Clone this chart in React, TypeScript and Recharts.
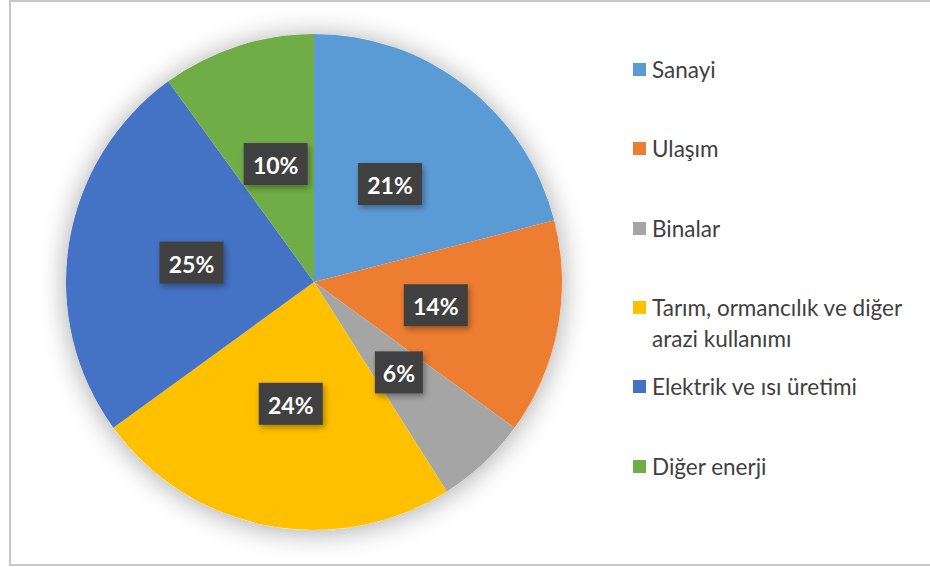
import React from 'react';
import { PieChart, Pie, Cell, Legend } from 'recharts';

const categories = [
    'Sanayi',
    'Ulaşım',
    'Binalar',
    'Tarım, ormancılık ve diğer arazi kullanımı',
    'Elektrik ve ısı üretimi',
    'Diğer enerji',
];
const shares = [21, 14, 6, 24, 25, 10];
const colors = ['#5B9BD5', '#ED7D31', '#A5A5A5', '#FFC000', '#4472C4', '#70AD47'];

// legend lines (the long one wraps in two)
const legendLines = [
    ['Sanayi'],
    ['Ulaşım'],
    ['Binalar'],
    ['Tarım, ormancılık ve diğer', 'arazi kullanımı'],
    ['Elektrik ve ısı üretimi'],
    ['Diğer enerji'],
];

const data = categories.map((name, i) => ({ name, value: shares[i] }));

const RAD = Math.PI / 180;

const renderLabel = (props: any) => {
    const { cx, cy, midAngle, outerRadius, value } = props;
    const r = outerRadius * 0.5;
    const x = cx + r * Math.cos(-midAngle * RAD);
    const y = cy + r * Math.sin(-midAngle * RAD);
    const w = value < 10 ? 48 : 64;
    const h = 42;
    return (
        <g>
            <rect x={x - w / 2} y={y - h / 2} width={w} height={h} fill="#404040" filter="url(#boxShadow)" />
            <text
                x={x}
                y={y + 1}
                fill="#ffffff"
                textAnchor="middle"
                dominantBaseline="central"
                fontFamily="Lato, 'Open Sans', sans-serif"
                fontWeight="bold"
                fontSize={23}
            >
                {value}%
            </text>
        </g>
    );
};

const LegendContent = () => (
    <div style={{ fontFamily: "Lato, 'Open Sans', sans-serif", fontSize: 22.5, color: '#404040' }}>
        {legendLines.map((lines, i) => (
            <div key={i} style={{ position: 'absolute', left: 0, top: i * 79.3, width: 297 }}>
                {lines.map((line, j) => (
                    <div key={j} style={{ display: 'flex', alignItems: 'center', height: 31, lineHeight: '31px', whiteSpace: 'nowrap' }}>
                        <span
                            style={{
                                display: 'inline-block',
                                width: 13,
                                height: 13,
                                marginRight: 6,
                                flexShrink: 0,
                                background: j === 0 ? colors[i] : 'transparent',
                            }}
                        />
                        <span>{line}</span>
                    </div>
                ))}
            </div>
        ))}
    </div>
);

export default function App() {
    return (
        <div style={{ position: 'absolute', left: 0, top: 0, width: 930, height: 567, background: '#ffffff' }}>
            <div
                style={{
                    position: 'absolute',
                    left: 9,
                    top: 0,
                    width: 940,
                    height: 566,
                    border: '2px solid #c8c8c8',
                    boxSizing: 'border-box',
                }}
            />
            <PieChart
                width={930}
                height={567}
                margin={{ top: 0, right: 0, bottom: 0, left: 0 }}
                style={{ position: 'absolute', left: 0, top: 0 }}
            >
                <defs>
                    <filter id="pieShadow" x="-20%" y="-20%" width="140%" height="140%">
                        <feGaussianBlur in="SourceAlpha" stdDeviation="14" />
                        <feOffset dx="0" dy="2" result="blur" />
                        <feComponentTransfer>
                            <feFuncA type="linear" slope="0.35" />
                        </feComponentTransfer>
                        <feMerge>
                            <feMergeNode />
                            <feMergeNode in="SourceGraphic" />
                        </feMerge>
                    </filter>
                    <filter id="boxShadow" x="-30%" y="-30%" width="160%" height="160%">
                        <feGaussianBlur in="SourceAlpha" stdDeviation="3" />
                        <feOffset dx="2" dy="3" />
                        <feComponentTransfer>
                            <feFuncA type="linear" slope="0.35" />
                        </feComponentTransfer>
                        <feMerge>
                            <feMergeNode />
                            <feMergeNode in="SourceGraphic" />
                        </feMerge>
                    </filter>
                </defs>
                <Pie
                    data={[{ name: 'bg', value: 1 }]}
                    dataKey="value"
                    cx={314}
                    cy={282}
                    outerRadius={248}
                    stroke="none"
                    isAnimationActive={false}
                    legendType="none"
                >
                    <Cell fill="#ffffff" filter="url(#pieShadow)" />
                </Pie>
                <Pie
                    data={data}
                    dataKey="value"
                    nameKey="name"
                    cx={314}
                    cy={282}
                    outerRadius={248}
                    startAngle={90}
                    endAngle={-270}
                    stroke="none"
                    labelLine={false}
                    label={renderLabel}
                    isAnimationActive={false}
                >
                    {data.map((d, i) => (
                        <Cell key={d.name} fill={colors[i]} />
                    ))}
                </Pie>
                <Legend
                    layout="vertical"
                    content={<LegendContent />}
                    wrapperStyle={{ position: 'absolute', left: 633, top: 54, width: 297, height: 480 }}
                />
            </PieChart>
        </div>
    );
}
